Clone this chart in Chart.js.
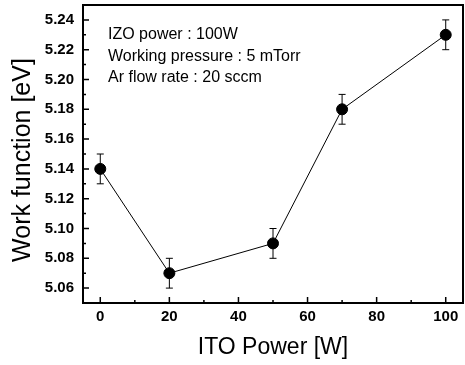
<!DOCTYPE html>
<html>
<head>
<meta charset="utf-8">
<script src="https://cdn.jsdelivr.net/npm/chart.js@4.4.1/dist/chart.umd.min.js"></script>
<style>
  html, body { margin: 0; padding: 0; background: #fff; }
  #wrap { width: 465px; height: 365px; position: relative; }
</style>
</head>
<body>
<div id="wrap"><canvas id="wfChart" width="465" height="365"></canvas></div>
<script>
// data
const itoPower = [0, 20, 50, 70, 100];
const workFunction = [5.14, 5.07, 5.09, 5.18, 5.23];
const errBar = [0.01, 0.01, 0.01, 0.01, 0.01];
const xTicks = [0, 20, 40, 60, 80, 100];
const yTicks = [5.06, 5.08, 5.10, 5.12, 5.14, 5.16, 5.18, 5.20, 5.22, 5.24];
const notes = ["IZO power : 100W", "Working pressure : 5 mTorr", "Ar flow rate : 20 sccm"];
const yTitle = "Work function [eV]";

const FONT = "'Liberation Sans', Arial, sans-serif";

// error bars + inward ticks + frame + notes + y title
const extras = {
    id: "extras",
    beforeDatasetsDraw(chart) {
        const ctx = chart.ctx;
        const xs = chart.scales.x, ys = chart.scales.y;
        ctx.save();
        ctx.strokeStyle = "#000";
        ctx.lineWidth = 1;
        itoPower.forEach((p, i) => {
            const x = xs.getPixelForValue(p);
            const yt = ys.getPixelForValue(workFunction[i] + errBar[i]);
            const yb = ys.getPixelForValue(workFunction[i] - errBar[i]);
            ctx.beginPath();
            ctx.moveTo(x, yt); ctx.lineTo(x, yb);
            ctx.moveTo(x - 3.5, yt); ctx.lineTo(x + 3.5, yt);
            ctx.moveTo(x - 3.5, yb); ctx.lineTo(x + 3.5, yb);
            ctx.stroke();
        });
        ctx.restore();
    },
    afterDraw(chart) {
        const ctx = chart.ctx;
        const a = chart.chartArea;
        const xs = chart.scales.x, ys = chart.scales.y;
        ctx.save();
        ctx.strokeStyle = "#000";
        ctx.lineWidth = 2;
        ctx.strokeRect(a.left, a.top, a.right - a.left, a.bottom - a.top);
        ctx.lineWidth = 1.5;
        ctx.beginPath();
        xTicks.forEach(v => {
            const x = xs.getPixelForValue(v);
            ctx.moveTo(x, a.bottom); ctx.lineTo(x, a.bottom - 6);
        });
        for (let v = 10; v < 105; v += 20) {
            const x = xs.getPixelForValue(v);
            ctx.moveTo(x, a.bottom); ctx.lineTo(x, a.bottom - 3);
        }
        yTicks.forEach(v => {
            const y = ys.getPixelForValue(v);
            ctx.moveTo(a.left, y); ctx.lineTo(a.left + 6, y);
        });
        for (let i = 0; i < yTicks.length - 1; i++) {
            const y = ys.getPixelForValue(yTicks[i] + 0.01);
            ctx.moveTo(a.left, y); ctx.lineTo(a.left + 3, y);
        }
        ctx.stroke();

        ctx.fillStyle = "#000";
        ctx.font = "16px " + FONT;
        ctx.textBaseline = "middle";
        notes.forEach((t, i) => {
            ctx.fillText(t, 108, 35 + i * 21.5);
        });

        // y title sits a bit below the plot centre in the original
        ctx.translate(23, 160);
        ctx.rotate(-Math.PI / 2);
        ctx.textAlign = "center";
        ctx.font = "25px " + FONT;
        ctx.fillText(yTitle, 0, 0);
        ctx.restore();
    }
};

document.addEventListener("DOMContentLoaded", () => {
    const ctx = document.getElementById("wfChart").getContext("2d");
    new Chart(ctx, {
        type: "scatter",
        data: {
            datasets: [{
                data: itoPower.map((p, i) => ({ x: p, y: workFunction[i] })),
                showLine: true,
                borderColor: "#000",
                borderWidth: 1,
                backgroundColor: "#000",
                pointRadius: 5.5,
                pointBackgroundColor: "#000",
                pointBorderColor: "#000",
            }],
        },
        options: {
            responsive: false,
            animation: false,
            layout: { autoPadding: false, padding: { top: 5, right: 2, left: 0, bottom: 0 } },
            plugins: { legend: { display: false }, tooltip: { enabled: false } },
            scales: {
                x: {
                    type: "linear",
                    min: -5, max: 105,
                    afterBuildTicks: (s) => { s.ticks = xTicks.map(v => ({ value: v })); },
                    afterFit: (s) => { s.height = 62; s.paddingLeft = 0; s.paddingRight = 0; },
                    grid: { display: false, drawTicks: false },
                    border: { display: false },
                    ticks: {
                        color: "#000",
                        padding: 5,
                        font: { family: FONT, size: 15, weight: "bold" },
                    },
                    title: {
                        display: true,
                        text: "ITO Power [W]",
                        color: "#000",
                        padding: { top: 6 },
                        font: { family: FONT, size: 23 },
                    },
                },
                y: {
                    min: 5.05, max: 5.25,
                    afterBuildTicks: (s) => { s.ticks = yTicks.map(v => ({ value: v })); },
                    afterFit: (s) => { s.width = 83; s.paddingTop = 0; s.paddingBottom = 0; },
                    grid: { display: false, drawTicks: false },
                    border: { display: false },
                    ticks: {
                        color: "#000",
                        padding: 9,
                        callback: (v) => v.toFixed(2),
                        font: { family: FONT, size: 15, weight: "bold" },
                    },
                },
            },
        },
        plugins: [extras],
    });
});
</script>
</body>
</html>
